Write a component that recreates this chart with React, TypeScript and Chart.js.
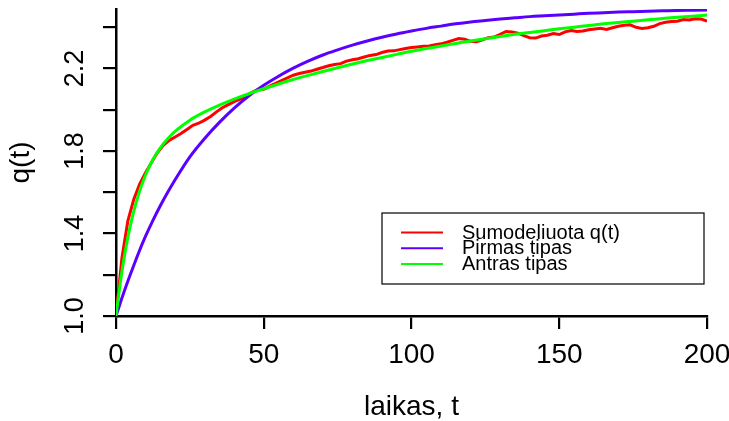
import React, { useEffect, useRef } from 'react';
import { Chart, registerables } from 'chart.js';

Chart.register(...registerables);

const FONT = '"Liberation Sans", Arial, Helvetica, sans-serif';

const smoothT = [0, 1, 2, 3, 4, 5, 7.5, 10, 12.5, 15, 17.5, 20, 25, 30, 35, 40, 45, 50, 55, 60, 65, 70, 75, 80, 85, 90, 95, 100, 105, 110, 115, 120, 125, 130, 135, 140, 145, 150, 155, 160, 165, 170, 175, 180, 185, 190, 195, 200];

const pirmasQ = [1.000, 1.044, 1.087, 1.129, 1.169, 1.207, 1.301, 1.387, 1.464, 1.535, 1.600, 1.661,
  1.772, 1.861, 1.939, 2.008, 2.068, 2.119, 2.163, 2.202, 2.236, 2.266, 2.291, 2.314, 2.334, 2.352, 2.368, 2.382,
  2.395, 2.406, 2.417, 2.426, 2.433, 2.440, 2.446, 2.452, 2.456, 2.460, 2.464, 2.468, 2.471, 2.474, 2.476, 2.478,
  2.480, 2.482, 2.483, 2.484];

const antrasQ = [1.000, 1.115, 1.215, 1.303, 1.380, 1.448, 1.584, 1.684, 1.759, 1.816, 1.860, 1.896,
  1.950, 1.990, 2.023, 2.052, 2.078, 2.102, 2.125, 2.147, 2.167, 2.186, 2.204, 2.222, 2.239, 2.254, 2.269, 2.284,
  2.297, 2.310, 2.322, 2.334, 2.345, 2.356, 2.366, 2.375, 2.384, 2.393, 2.401, 2.409, 2.417, 2.424, 2.430, 2.437,
  2.443, 2.449, 2.454, 2.460];

const simT = [0, 2, 4, 6, 8, 10, 12, 14, 16, 18, 20, 22, 24, 26, 28, 30, 32, 34, 36, 38, 40, 42, 44, 46, 48, 50,
  52, 54, 56, 58, 60, 62, 64, 66, 68, 70, 72, 74, 76, 78, 80, 82, 84, 86, 88, 90, 92, 94, 96, 98, 100,
  102, 104, 106, 108, 110, 112, 114, 116, 118, 120, 122, 124, 126, 128, 130, 132, 134, 136, 138, 140, 142, 144, 146, 148, 150,
  152, 154, 156, 158, 160, 162, 164, 166, 168, 170, 172, 174, 176, 178, 180, 182, 184, 186, 188, 190, 192, 194, 196, 198, 200];

const simQ = [1.000, 1.280, 1.460, 1.565, 1.640, 1.695, 1.745, 1.792, 1.828, 1.852, 1.868, 1.885, 1.905, 1.925, 1.935,
  1.950, 1.968, 1.990, 2.010, 2.025, 2.040, 2.052, 2.068, 2.085, 2.097, 2.100,
  2.115, 2.128, 2.142, 2.155, 2.168, 2.176, 2.182, 2.188, 2.197, 2.205, 2.214, 2.220, 2.224, 2.236, 2.243,
  2.248, 2.256, 2.264, 2.268, 2.278, 2.285, 2.286, 2.292, 2.297, 2.302,
  2.305, 2.308, 2.310, 2.316, 2.320, 2.328, 2.337, 2.346, 2.342, 2.332, 2.330, 2.340, 2.350, 2.353, 2.366,
  2.380, 2.378, 2.372, 2.360, 2.350, 2.348, 2.358, 2.362, 2.370, 2.365,
  2.378, 2.385, 2.380, 2.382, 2.388, 2.392, 2.395, 2.390, 2.398, 2.405, 2.410, 2.412, 2.400, 2.395, 2.398,
  2.405, 2.418, 2.425, 2.428, 2.430, 2.438, 2.436, 2.442, 2.440, 2.430];

const xTicks = [0, 50, 100, 150, 200];
const yTicks = [1.0, 1.2, 1.4, 1.6, 1.8, 2.0, 2.2, 2.4];
const yLabelTicks = [1.0, 1.4, 1.8, 2.2];
const seriesNames = ['Sumodeliuota q(t)', 'Pirmas tipas', 'Antras tipas'];
const seriesColors = ['#ff0000', '#5a00ff', '#00ff00'];

const overlayPlugin = {
  id: 'rOverlay',
  afterDraw(chart: any) {
    const ctx = chart.ctx;
    const yScale = chart.scales.y;
    ctx.save();
    // rotated y tick labels
    ctx.fillStyle = '#000';
    ctx.font = `27px ${FONT}`;
    ctx.textAlign = 'center';
    ctx.textBaseline = 'alphabetic';
    yLabelTicks.forEach((v) => {
      const py = yScale.getPixelForValue(v);
      ctx.save();
      ctx.translate(83, py);
      ctx.rotate(-Math.PI / 2);
      ctx.fillText(v.toFixed(1), 0, 0);
      ctx.restore();
    });
    // legend
    const bx = 382, by = 213, bw = 322, bh = 71;
    ctx.strokeStyle = '#000';
    ctx.lineWidth = 1.2;
    ctx.strokeRect(bx, by, bw, bh);
    const rows = [232.5, 248.2, 264];
    ctx.font = `20px ${FONT}`;
    ctx.textAlign = 'left';
    ctx.textBaseline = 'middle';
    seriesNames.forEach((name, i) => {
      ctx.strokeStyle = seriesColors[i];
      ctx.lineWidth = 2;
      ctx.beginPath();
      ctx.moveTo(401, rows[i]);
      ctx.lineTo(443, rows[i]);
      ctx.stroke();
      ctx.fillStyle = '#000';
      ctx.fillText(name, 462, rows[i] + 0.5);
    });
    ctx.restore();
  },
};

export default function App() {
  const canvasRef = useRef<HTMLCanvasElement | null>(null);

  useEffect(() => {
    const canvas = canvasRef.current;
    if (!canvas) return;
    const sim = simT.map((t, i) => ({ x: t, y: simQ[i] }));
    const pirmas = smoothT.map((t, i) => ({ x: t, y: pirmasQ[i] }));
    const antras = smoothT.map((t, i) => ({ x: t, y: antrasQ[i] }));

    const chart = new Chart(canvas, {
      type: 'line',
      data: {
        datasets: [
          { label: seriesNames[0], data: sim, borderColor: seriesColors[0], borderWidth: 3, pointRadius: 0, tension: 0, order: 3 },
          { label: seriesNames[1], data: pirmas, borderColor: seriesColors[1], borderWidth: 3, pointRadius: 0, cubicInterpolationMode: 'monotone', order: 2 },
          { label: seriesNames[2], data: antras, borderColor: seriesColors[2], borderWidth: 3, pointRadius: 0, cubicInterpolationMode: 'monotone', order: 1 },
        ],
      },
      options: {
        responsive: false,
        animation: false,
        devicePixelRatio: 1,
        layout: { padding: { left: 0, right: 22, top: 9, bottom: 0 } },
        plugins: { legend: { display: false }, tooltip: { enabled: false } },
        scales: {
          x: {
            type: 'linear',
            min: 0,
            max: 200,
            afterBuildTicks: (s: any) => { s.ticks = xTicks.map((v) => ({ value: v })); },
            afterFit: (s: any) => { s.height = 105; s.paddingLeft = 0; s.paddingRight = 0; },
            grid: { drawOnChartArea: false, drawTicks: true, tickLength: 13, color: '#000', lineWidth: 2.2 },
            border: { display: true, color: '#000', width: 2.5 },
            ticks: { font: { family: FONT, size: 28 }, color: '#000', padding: 9, maxRotation: 0, autoSkip: false, callback: (v: any) => String(v) },
            title: { display: true, text: 'laikas, t', font: { family: FONT, size: 28, lineHeight: 1 }, color: '#000', padding: { top: 0, bottom: 0 } },
          },
          y: {
            type: 'linear',
            min: 1.0,
            max: 2.489,
            afterBuildTicks: (s: any) => { s.ticks = yTicks.map((v) => ({ value: v })); },
            afterFit: (s: any) => { s.width = 116; s.paddingTop = 0; s.paddingBottom = 0; },
            grid: { drawOnChartArea: false, drawTicks: true, tickLength: 13, color: '#000', lineWidth: 2.2 },
            border: { display: true, color: '#000', width: 2.5 },
            ticks: { display: false },
            title: { display: true, text: 'q(t)', font: { family: FONT, size: 28, lineHeight: 1 }, color: '#000', padding: { top: 7, bottom: 0 } },
          },
        },
      },
      plugins: [overlayPlugin],
    } as any);

    return () => chart.destroy();
  }, []);

  return (
    <div style={{ position: 'absolute', left: 0, top: 0, width: 729, height: 421, background: '#fff' }}>
      <canvas ref={canvasRef} width={729} height={421} style={{ display: 'block' }} />
    </div>
  );
}
